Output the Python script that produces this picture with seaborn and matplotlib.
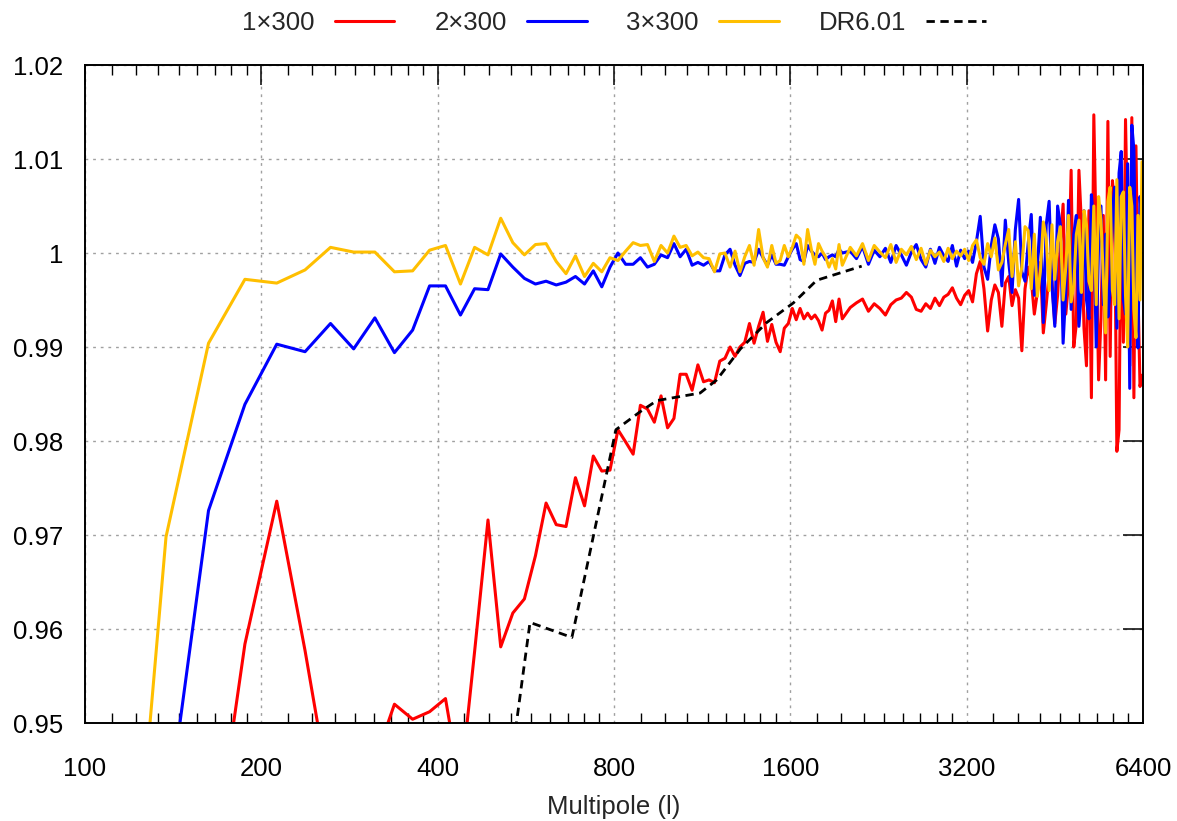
import matplotlib
matplotlib.use("Agg")
import matplotlib.pyplot as plt
import pandas as pd
import seaborn as sns
from matplotlib.ticker import FixedLocator, FixedFormatter, NullFormatter

sns.set_style("white")
plt.rcParams["font.family"] = ["Liberation Sans", "DejaVu Sans"]

# Multipole bin centres (width 25 up to ~2000, width 50 above)
ELL_LOW = [
    112.5, 137.5, 162.5, 187.5, 212.5, 237.5, 262.5, 287.5, 312.5, 337.5,
    362.5, 387.5, 412.5, 437.5, 462.5, 487.5, 512.5, 537.5, 562.5, 587.5,
    612.5, 637.5, 662.5, 687.5, 712.5, 737.5, 762.5, 787.5, 812.5, 837.5,
    862.5, 887.5, 912.5, 937.5, 962.5, 987.5, 1012.5, 1037.5, 1062.5, 1087.5,
    1112.5, 1137.5, 1162.5, 1187.5, 1212.5, 1237.5, 1262.5, 1287.5, 1312.5, 1337.5,
    1362.5, 1387.5, 1412.5, 1437.5, 1462.5, 1487.5, 1512.5, 1537.5, 1562.5, 1587.5,
    1612.5, 1637.5, 1662.5, 1687.5, 1712.5, 1737.5, 1762.5, 1787.5, 1812.5, 1837.5,
    1862.5, 1887.5, 1912.5, 1937.5, 1962.5,
]
ELL_HIGH = [
    2025, 2075, 2125, 2175, 2225, 2275, 2325, 2375, 2425, 2475,
    2525, 2575, 2625, 2675, 2725, 2775, 2825, 2875, 2925, 2975,
    3025, 3075, 3125, 3175, 3225, 3275, 3325, 3375, 3425, 3475,
    3525, 3575, 3625, 3675, 3725, 3775, 3825, 3875, 3925, 3975,
    4025, 4075, 4125, 4175, 4225, 4275, 4325, 4375, 4425, 4475,
    4525, 4575, 4625, 4675, 4725, 4775, 4825, 4875, 4925, 4975,
    5025, 5075, 5125, 5175, 5225, 5275, 5325, 5375, 5425, 5475,
    5525, 5575, 5625, 5675, 5725, 5775, 5825, 5875, 5925, 5975,
    6025, 6075, 6125, 6175, 6225, 6275, 6325, 6375,
]

# Ratio for 1x300
RED_LOW = [
    0.8600, 0.9000, 0.9314, 0.9584, 0.9736, 0.9577, 0.9420, 0.9400, 0.9460, 0.9520,
    0.9504, 0.9512, 0.9526, 0.9433, 0.9576, 0.9716, 0.9581, 0.9617, 0.9632, 0.9678,
    0.9734, 0.9711, 0.9709, 0.9761, 0.9731, 0.9784, 0.9768, 0.9769, 0.9812, 0.9799,
    0.9786, 0.9838, 0.9834, 0.9820, 0.9848, 0.9814, 0.9824, 0.9871, 0.9871, 0.9854,
    0.9881, 0.9863, 0.9865, 0.9862, 0.9885, 0.9888, 0.9900, 0.9890, 0.9900, 0.9905,
    0.9925, 0.9904, 0.9922, 0.9937, 0.9906, 0.9924, 0.9905, 0.9895, 0.9920, 0.9925,
    0.9941, 0.9929, 0.9941, 0.9930, 0.9936, 0.9930, 0.9934, 0.9928, 0.9918, 0.9936,
    0.9939, 0.9949, 0.9927, 0.9951, 0.9930,
]
RED_HIGH = [
    0.9942, 0.9947, 0.9951, 0.9938, 0.9946, 0.9941, 0.9934, 0.9945, 0.9950, 0.9952,
    0.9958, 0.9953, 0.9940, 0.9938, 0.9946, 0.9941, 0.9952, 0.9944, 0.9953, 0.9956,
    0.9963, 0.9952, 0.9945, 0.9955, 0.9960, 0.9948, 0.9978, 0.9991, 0.9962, 0.9917,
    0.9950, 0.9966, 0.9958, 0.9922, 0.9968, 0.9975, 0.9944, 0.9961, 0.9952, 0.9896,
    0.9962, 0.9985, 0.9972, 0.9935, 0.9958, 0.9990, 0.9915, 0.9945, 0.9978, 0.9970,
    0.9925, 0.9955, 1.0010, 1.0052, 0.9935, 0.9968, 1.0088, 0.9900, 0.9925, 1.0088,
    1.0030, 0.9920, 0.9880, 1.0045, 0.9846, 1.0147, 1.0010, 0.9865, 0.9930, 1.0040,
    0.9865, 1.0140, 0.9890, 1.0077, 1.0050, 0.9789, 0.9812, 1.0070, 0.9905, 1.0142,
    1.0020, 0.9880, 1.0144, 0.9846, 1.0114, 0.9960, 0.9858, 0.9870,
]

# Ratio for 2x300
BLUE_LOW = [
    0.9000, 0.9390, 0.9726, 0.9839, 0.9903, 0.9895, 0.9925, 0.9898, 0.9931, 0.9894,
    0.9918, 0.9965, 0.9965, 0.9934, 0.9962, 0.9961, 0.9999, 0.9985, 0.9973, 0.9967,
    0.9970, 0.9966, 0.9969, 0.9975, 0.9967, 0.9981, 0.9964, 0.9985, 1.0000, 0.9988,
    0.9988, 0.9995, 0.9985, 0.9988, 0.9998, 0.9995, 1.0010, 0.9996, 1.0004, 0.9987,
    0.9990, 0.9987, 0.9991, 0.9981, 0.9981, 0.9998, 1.0004, 0.9987, 0.9976, 0.9989,
    0.9991, 0.9990, 1.0004, 0.9995, 0.9987, 0.9998, 0.9988, 0.9988, 0.9987, 0.9996,
    1.0004, 1.0010, 0.9993, 0.9991, 1.0008, 1.0002, 0.9998, 0.9996, 1.0000, 0.9993,
    0.9996, 0.9998, 0.9996, 1.0004, 1.0000,
]
BLUE_HIGH = [
    1.0002, 0.9994, 1.0007, 0.9988, 1.0003, 0.9996, 1.0005, 0.9990, 1.0008, 0.9998,
    0.9987, 1.0001, 1.0009, 0.9993, 0.9985, 1.0004, 0.9989, 1.0006, 0.9997, 0.9991,
    1.0008, 0.9986, 1.0003, 0.9994, 1.0002, 0.9990, 1.0012, 1.0039, 0.9985, 0.9972,
    1.0008, 1.0030, 1.0015, 0.9965, 1.0035, 0.9990, 0.9958, 1.0025, 1.0057, 0.9980,
    0.9970, 1.0010, 1.0041, 0.9955, 0.9985, 1.0038, 0.9926, 1.0030, 1.0055, 0.9965,
    0.9922, 1.0050, 1.0030, 0.9904, 0.9960, 1.0056, 0.9940, 1.0020, 1.0040, 0.9922,
    0.9960, 1.0045, 0.9950, 0.9930, 1.0062, 1.0030, 0.9900, 1.0010, 1.0050, 0.9945,
    1.0020, 0.9932, 0.9960, 1.0045, 1.0070, 0.9920, 1.0085, 1.0108, 0.9950, 0.9935,
    1.0095, 0.9856, 1.0136, 1.0110, 0.9960, 0.9899, 1.0060, 1.0030,
]

# Ratio for 3x300
YEL_LOW = [
    0.9067, 0.9698, 0.9904, 0.9972, 0.9968, 0.9982, 1.0006, 1.0001, 1.0001, 0.9980,
    0.9981, 1.0003, 1.0008, 0.9967, 1.0006, 0.9998, 1.0037, 1.0011, 0.9998, 1.0009,
    1.0010, 0.9991, 0.9978, 0.9997, 0.9975, 0.9989, 0.9980, 0.9995, 0.9992, 1.0002,
    1.0011, 1.0008, 1.0009, 0.9991, 1.0008, 1.0000, 1.0018, 1.0006, 1.0008, 0.9997,
    1.0001, 0.9995, 0.9994, 0.9980, 0.9999, 1.0000, 0.9985, 1.0002, 0.9980, 0.9996,
    1.0008, 0.9987, 1.0025, 0.9995, 0.9985, 1.0008, 0.9989, 0.9992, 1.0008, 0.9996,
    1.0006, 1.0019, 1.0015, 0.9988, 1.0025, 1.0004, 0.9988, 1.0010, 1.0002, 0.9996,
    0.9985, 0.9994, 0.9983, 1.0009, 0.9987,
]
YEL_HIGH = [
    1.0006, 0.9997, 1.0010, 0.9992, 1.0008, 1.0001, 0.9995, 1.0009, 0.9990, 1.0004,
    0.9998, 1.0007, 0.9993, 1.0005, 0.9988, 1.0003, 0.9996, 1.0001, 0.9991, 1.0005,
    0.9994, 1.0002, 0.9997, 1.0004, 0.9992, 1.0008, 1.0014, 0.9995, 0.9988, 1.0010,
    0.9996, 1.0016, 0.9982, 0.9990, 1.0009, 1.0025, 0.9975, 1.0012, 0.9965, 0.9985,
    1.0028, 1.0024, 0.9962, 1.0020, 0.9954, 0.9980, 1.0033, 1.0015, 0.9960, 1.0030,
    0.9972, 1.0012, 1.0028, 0.9950, 0.9985, 1.0040, 0.9948, 0.9965, 1.0020, 1.0035,
    0.9958, 1.0045, 1.0030, 0.9970, 0.9960, 1.0050, 0.9945, 1.0060, 1.0035, 0.9975,
    0.9915, 1.0055, 1.0070, 0.9960, 0.9945, 1.0078, 0.9930, 1.0060, 1.0065, 0.9955,
    0.9900, 1.0070, 1.0050, 0.9940, 0.9910, 1.0040, 0.9950, 1.0097,
]

# DR6.01 reference curve
DR_ELL = [520, 575, 678, 806, 886, 947, 1122, 1198, 1315, 1458, 1620, 1775, 2118]
DR_VAL = [0.9405, 0.9607, 0.9591, 0.9812, 0.9831, 0.9843, 0.9851, 0.9865,
          0.9898, 0.9926, 0.9947, 0.9971, 0.9986]

X_TICKS = [100, 200, 400, 800, 1600, 3200, 6400]
X_LABELS = ["100", "200", "400", "800", "1600", "3200", "6400"]
Y_TICKS = [0.95, 0.96, 0.97, 0.98, 0.99, 1.00, 1.01, 1.02]
Y_LABELS = ["0.95", "0.96", "0.97", "0.98", "0.99", "1", "1.01", "1.02"]

FS = 18.5
W, H = 1177, 821

fig = plt.figure(figsize=(W / 100, H / 100), dpi=100)
ax = fig.add_axes([85 / W, 1 - 723 / H, (1143 - 85) / W, (723 - 65) / H])

ell = ELL_LOW + ELL_HIGH
runs = pd.DataFrame({
    "ell": ell * 3,
    "ratio": RED_LOW + RED_HIGH + BLUE_LOW + BLUE_HIGH + YEL_LOW + YEL_HIGH,
    "run": ["1×300"] * len(ell) + ["2×300"] * len(ell) + ["3×300"] * len(ell),
})
palette = {"1×300": "#ff0000", "2×300": "#0000ff", "3×300": "#ffbf00"}

for name in ["1×300", "2×300", "3×300"]:
    sub = runs[runs["run"] == name]
    sns.lineplot(data=sub, x="ell", y="ratio", color=palette[name], lw=2.2,
                 ax=ax, label=name, estimator=None, sort=True)

sns.lineplot(x=DR_ELL, y=DR_VAL, color="black", lw=2.0, linestyle=(0, (3, 2)),
             ax=ax, label="DR6.01", estimator=None)

ax.set_xscale("log", base=2)
ax.set_xlim(100, 6400)
ax.set_ylim(0.95, 1.02)

minor_x = [a * (1 + k / 9) for a in X_TICKS[:-1] for k in range(1, 9)]
ax.xaxis.set_major_locator(FixedLocator(X_TICKS))
ax.xaxis.set_major_formatter(FixedFormatter(X_LABELS))
ax.xaxis.set_minor_locator(FixedLocator(minor_x))
ax.xaxis.set_minor_formatter(NullFormatter())
ax.yaxis.set_major_locator(FixedLocator(Y_TICKS))
ax.yaxis.set_major_formatter(FixedFormatter(Y_LABELS))

ax.tick_params(axis="both", which="major", direction="in", length=14.5, width=1.1,
               top=True, right=True, labelsize=FS, color="black", labelcolor="black")
ax.tick_params(axis="x", which="minor", direction="in", length=7.2, width=1.0,
               top=True, bottom=True, color="black")
ax.tick_params(axis="x", which="major", pad=24.4)
ax.tick_params(axis="y", which="major", pad=15.8)

ax.grid(True, which="major", axis="both", color="#a0a0a0", lw=1.0,
        linestyle=(0, (2, 3.5)))
ax.set_axisbelow(True)
for sp in ax.spines.values():
    sp.set_linewidth(1.4)
    sp.set_color("black")

ax.set_xlabel("Multipole (l)", fontsize=FS, labelpad=10.4)
ax.set_ylabel("")

handles, labels = ax.get_legend_handles_labels()
ax.get_legend().remove()
fig.legend(handles, labels, ncol=4, loc="center",
           bbox_to_anchor=(614 / W, 1 - 23 / H), frameon=False,
           markerfirst=False, handlelength=2.33, handletextpad=0.78,
           columnspacing=1.55, fontsize=FS, borderpad=0, borderaxespad=0)

fig.savefig("out.png", dpi=100)
